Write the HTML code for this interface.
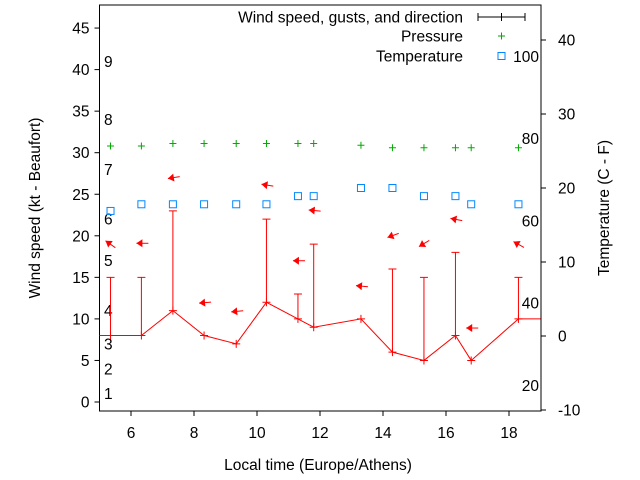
<!DOCTYPE html>
<html><head><meta charset="utf-8"><style>
body{margin:0;background:#fff}
svg{display:block;font-family:"Liberation Sans",sans-serif}
</style></head><body>
<svg id="c" width="640" height="480" xmlns="http://www.w3.org/2000/svg"></svg>
<script>
const times=[5.35,6.33,7.33,8.32,9.34,10.3,11.3,11.8,13.3,14.3,15.3,16.3,16.8,18.3];
const speeds=[8,8,11,8,7,12,10,9,10,6,5,8,5,10];
const gusts=[15,15,23,8,7,22,13,19,10,16,15,18,5,15];
const pressure=[30.8,30.8,31.1,31.1,31.1,31.1,31.1,31.1,30.9,30.6,30.6,30.6,30.6,30.6];
const temps=[16.9,17.8,17.8,17.8,17.8,17.8,18.9,18.9,20,20,18.9,18.9,17.8,17.8];
const arrowY=[19.4,19.1,26.9,11.9,10.85,26.2,17,23.1,14,19.8,18.7,22.1,8.9,19.3];
const arrowAng=[35,0,-9,-5,-5,9,0,5,5,-20,-31,11,0,29];
const leftTicks=[0,5,10,15,20,25,30,35,40,45];
const rightTicks=[-10,0,10,20,30,40];
const xTicks=[6,8,10,12,14,16,18];
const beaufortKt=[1,4,7,11,17,22,28,34,41];
const fahr=[20,40,60,80,100];
const L=99.5,R=541,T=5,B=411;
const FS=15.5;
const x=t=>L+31.5*(t-5);
const yL=v=>402-8.31*v;
const yR=c=>336-7.4*c;
const svg=document.getElementById('c');const NS='http://www.w3.org/2000/svg';
function mk(tag,a,txt){const e=document.createElementNS(NS,tag);for(const k in a)e.setAttribute(k,a[k]);if(txt!==undefined)e.textContent=txt;svg.appendChild(e);return e;}
let e;
e=mk('rect',{x:L,y:T,width:R-L,height:B-T,fill:'none',stroke:'#000','stroke-width':1});


leftTicks.forEach(v=>{
 e=mk('line',{x1:L-5,x2:L,y1:yL(v),y2:yL(v),stroke:'#000'});
 
 
 e=mk('text',{x:L-10,y:yL(v)+5.5,'text-anchor':'end','font-size':FS,fill:'#000'},v);
 
 
});
rightTicks.forEach(v=>{
 e=mk('line',{x1:R,x2:R+5,y1:yR(v),y2:yR(v),stroke:'#000'});
 
 
 e=mk('text',{x:R+17,y:yR(v)+5.5,'font-size':FS,fill:'#000'},v);
 
 
});
xTicks.forEach(v=>{
 e=mk('line',{x1:x(v),x2:x(v),y1:B,y2:B+5,stroke:'#000'});
 
 
 e=mk('text',{x:x(v),y:B+27,'text-anchor':'middle','font-size':FS,fill:'#000'},v);
 
 
});
beaufortKt.forEach((k,i)=>{
 e=mk('text',{x:104,y:yL(k)+5.5,'font-size':FS,fill:'#000'},i+1);
 
 
});
fahr.forEach(f=>{
 e=mk('text',{x:539,y:yR((f-32)*5/9)+5.5,'text-anchor':'end','font-size':FS,fill:'#000'},f);
 
 
});
let pts=[[x(5),yL(speeds[0])]];times.forEach((t,i)=>pts.push([x(t),yL(speeds[i])]));pts.push([x(19),yL(speeds[speeds.length-1])]);
e=mk('polyline',{points:pts.map(p=>p.join(',')).join(' '),fill:'none',stroke:'#f00','stroke-width':1});


times.forEach((t,i)=>{
 const cx=x(t),cy=yL(speeds[i]),gy=yL(gusts[i]);
 if(gusts[i]>speeds[i]){
  e=mk('path',{d:`M${cx},${cy}V${gy}M${cx-4},${gy}H${cx+4}`,stroke:'#f00',fill:'none'});
  
  
 }
 e=mk('path',{d:`M${cx-4},${cy}H${cx+4}M${cx},${cy-4}V${cy+4}`,stroke:'#f00',fill:'none'});
 
 
 const px=x(t),py=yL(pressure[i]);
 e=mk('path',{d:`M${px-3.5},${py}H${px+3.5}M${px},${py-3.5}V${py+3.5}`,stroke:'#0a0',fill:'none'});
 
 
 e=mk('rect',{x:x(t)-3.5,y:yR(temps[i])-3.5,width:7,height:7,fill:'none',stroke:'#08f'});
 
 
 const ay=yL(arrowY[i]);
 const g=mk('g',{transform:`translate(${cx-5},${ay}) rotate(${arrowAng[i]})`});
 
 
 const l=document.createElementNS(NS,'line');l.setAttribute('x1',0);l.setAttribute('x2',12);l.setAttribute('y1',0);l.setAttribute('y2',0);l.setAttribute('stroke','#f00');g.appendChild(l);
 const h=document.createElementNS(NS,'polygon');h.setAttribute('points','0,0 6,-4 6,4');h.setAttribute('fill','#f00');g.appendChild(h);
});
const leg=[['Wind speed, gusts, and direction',17],['Pressure',36],['Temperature',56]];
leg.forEach(([s,yy])=>{e=mk('text',{x:463,y:yy+5.5,'text-anchor':'end','font-size':FS,fill:'#000'},s);
 
 });
e=mk('path',{d:'M478,17H525M478,13V21M525,13V21M501.5,13V21',stroke:'#000',fill:'none'});


e=mk('path',{d:'M498,36H505M501.5,32.5V39.5',stroke:'#0a0',fill:'none'});


e=mk('rect',{x:498,y:52.5,width:7,height:7,fill:'none',stroke:'#08f'});


e=mk('text',{x:318,y:470,'text-anchor':'middle','font-size':FS,fill:'#000'},'Local time (Europe/Athens)');


e=mk('text',{x:0,y:0,'text-anchor':'middle','font-size':FS,fill:'#000',transform:'translate(40,208) rotate(-90)'},'Wind speed (kt - Beaufort)');


e=mk('text',{x:0,y:0,'text-anchor':'middle','font-size':FS,fill:'#000',transform:'translate(609,208) rotate(-90)'},'Temperature (C - F)');


</script>
</body></html>
